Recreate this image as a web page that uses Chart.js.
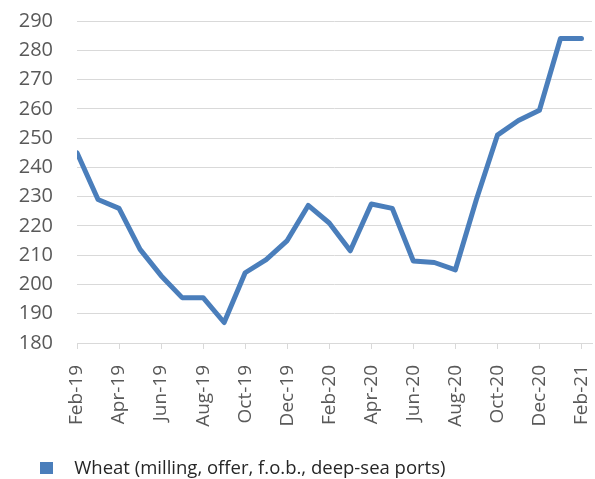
<!DOCTYPE html>
<html>
<head>
<meta charset="utf-8">
<script src="https://cdn.jsdelivr.net/npm/chart.js@4.4.1/dist/chart.umd.min.js"></script>
<style>
  html, body { margin: 0; padding: 0; background: #fff; }
  #wrap { width: 595px; height: 479px; }
</style>
</head>
<body>
<div id="wrap"><canvas id="chart"></canvas></div>
<script>
const months = [
  "Feb-19", "Mar-19", "Apr-19", "May-19", "Jun-19", "Jul-19", "Aug-19",
  "Sep-19", "Oct-19", "Nov-19", "Dec-19", "Jan-20", "Feb-20", "Mar-20",
  "Apr-20", "May-20", "Jun-20", "Jul-20", "Aug-20", "Sep-20", "Oct-20",
  "Nov-20", "Dec-20", "Jan-21", "Feb-21",
];
const wheatPrice = [
  245, 229, 226, 212, 203, 195.5, 195.5, 187, 204, 208.5, 215, 227, 221,
  211.5, 227.5, 226, 208, 207.5, 205, 229, 251, 256, 259.5, 284, 284,
];
const seriesName = "Wheat (milling, offer, f.o.b., deep-sea ports)";
const yMin = 180;
const yMax = 290;
const yStep = 10;

const lineColor = "#4a7ebb";
const gridColor = "#d9d9d9";
const textColor = "#595959";

// legend marker: square sits 30px into a wider transparent box
const marker = document.createElement("canvas");
marker.width = 55;
marker.height = 12;
const mctx = marker.getContext("2d");
mctx.fillStyle = lineColor;
mctx.fillRect(30, 0, 13, 12);

const points = wheatPrice.map((v, i) => ({ x: i, y: v }));

new Chart(document.getElementById("chart"), {
  type: "line",
  data: {
    datasets: [
      {
        label: seriesName,
        data: points,
        borderColor: lineColor,
        backgroundColor: lineColor,
        borderWidth: 5,
        borderJoinStyle: "round",
        borderCapStyle: "round",
        pointRadius: 0,
        tension: 0,
        pointStyle: marker,
      },
    ],
  },
  options: {
    responsive: true,
    maintainAspectRatio: false,
    animation: false,
    layout: { padding: { left: 0, top: 21, right: 3, bottom: 0 } },
    plugins: {
      tooltip: { enabled: false },
      legend: {
        position: "bottom",
        align: "start",
        maxHeight: 30,
        labels: {
          usePointStyle: true,
          pointStyleWidth: 55,
          padding: 10,
          color: "#262626",
          font: { family: "'Open Sans'", size: 18.5 },
        },
      },
    },
    scales: {
      x: {
        type: "linear",
        min: 0,
        max: 24.5,
        afterFit: (scale) => {
          scale.height = 106;
          scale.paddingLeft = 0;
          scale.paddingRight = 0;
        },
        grid: {
          drawOnChartArea: false,
          drawTicks: true,
          tickLength: 6,
          color: gridColor,
        },
        border: { color: gridColor, width: 1 },
        ticks: {
          stepSize: 2,
          includeBounds: false,
          autoSkip: false,
          maxRotation: 90,
          minRotation: 90,
          padding: 16,
          color: textColor,
          font: { family: "'Open Sans'", size: 19 },
          callback: (v) => (Number.isInteger(v) ? months[v] : null),
        },
      },
      y: {
        min: yMin,
        max: yMax,
        afterFit: (scale) => {
          scale.width = 77;
          scale.paddingTop = 0;
          scale.paddingBottom = 0;
        },
        grid: { color: gridColor, drawTicks: false },
        border: { display: false },
        ticks: {
          stepSize: yStep,
          padding: 24,
          color: textColor,
          font: { family: "'Open Sans'", size: 20 },
        },
      },
    },
  },
});
</script>
</body>
</html>
